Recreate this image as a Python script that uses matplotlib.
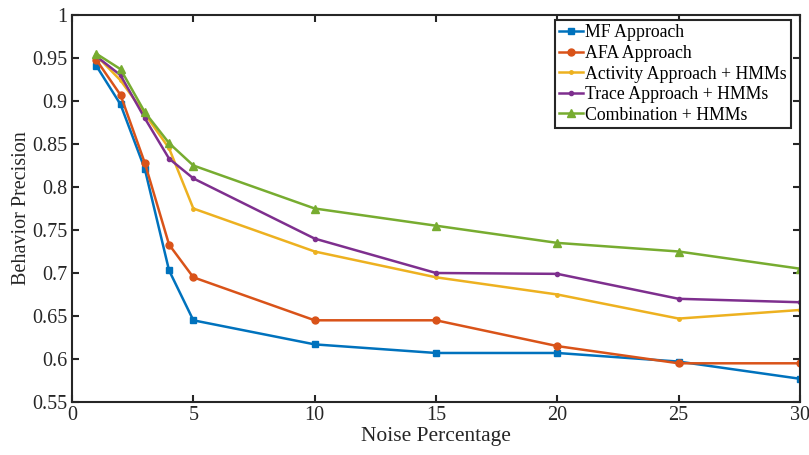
import matplotlib.pyplot as plt

plt.rcParams['font.family'] = ['Liberation Serif', 'DejaVu Serif']

noise = [1, 2, 3, 4, 5, 10, 15, 20, 25, 30]
mf = [0.941, 0.896, 0.821, 0.703, 0.645, 0.617, 0.607, 0.607, 0.597, 0.577]
afa = [0.948, 0.907, 0.828, 0.733, 0.695, 0.645, 0.645, 0.615, 0.595, 0.595]
activity = [0.953, 0.924, 0.885, 0.845, 0.775, 0.725, 0.695, 0.675, 0.647, 0.657]
trace = [0.952, 0.930, 0.880, 0.833, 0.810, 0.740, 0.700, 0.699, 0.670, 0.666]
combo = [0.955, 0.937, 0.887, 0.851, 0.825, 0.775, 0.755, 0.735, 0.725, 0.705]

series = [
    ("MF Approach", mf, "#0072BD", "s", 4),
    ("AFA Approach", afa, "#D95319", "o", 5),
    ("Activity Approach + HMMs", activity, "#EDB120", ".", 5),
    ("Trace Approach + HMMs", trace, "#7E2F8E", ".", 6),
    ("Combination + HMMs", combo, "#77AC30", "^", 6),
]

fig = plt.figure(figsize=(8.09, 4.55), dpi=100)
ax = fig.add_axes([72 / 809, 1 - 402 / 455, 728 / 809, 387 / 455])

for name, vals, col, mk, ms in series:
    ax.plot(noise, vals, color=col, marker=mk, markersize=ms, linewidth=1.8, label=name)

ax.set_xlim(0, 30)
ax.set_ylim(0.55, 1)
ax.set_xticks([0, 5, 10, 15, 20, 25, 30])
ax.set_yticks([0.55, 0.6, 0.65, 0.7, 0.75, 0.8, 0.85, 0.9, 0.95, 1])
ax.set_yticklabels(["0.55", "0.6", "0.65", "0.7", "0.75", "0.8", "0.85", "0.9", "0.95", "1"])
ax.tick_params(direction="in", top=True, right=True, labelsize=14.5, length=5, width=1.5,
               color="#262626", labelcolor="#262626", pad=3)
for s in ax.spines.values():
    s.set_linewidth(1.5)
    s.set_color("#262626")

ax.set_xlabel("Noise Percentage", fontsize=15.5, color="#262626", labelpad=1)
ax.set_ylabel("Behavior Precision", fontsize=14.5, color="#262626", labelpad=1)

leg = ax.legend(loc="upper right", bbox_to_anchor=(0.988, 0.987), fontsize=12.8,
                fancybox=False, edgecolor="#262626", framealpha=1, borderpad=0.25,
                labelspacing=0.2, handlelength=1.3, handletextpad=0.15, borderaxespad=0)
leg.get_frame().set_linewidth(1.5)

fig.savefig("out.png", dpi=100)
